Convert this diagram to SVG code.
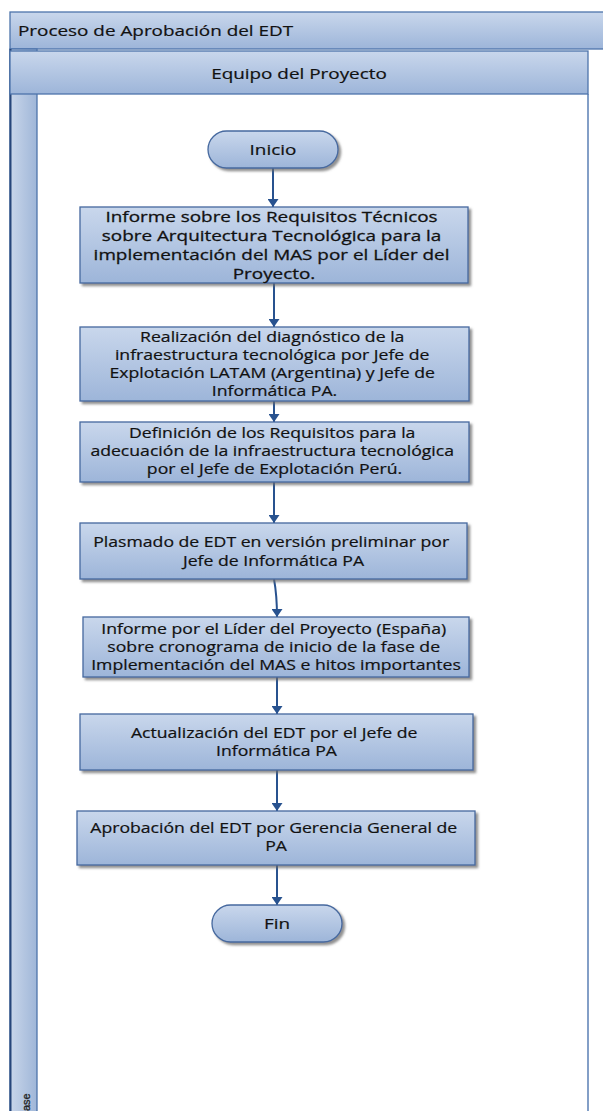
<svg xmlns="http://www.w3.org/2000/svg" width="603" height="1111" viewBox="0 0 603 1111">
  <defs>
    <linearGradient id="gv" x1="0" y1="0" x2="0" y2="1">
      <stop offset="0" stop-color="#c9d7ec"/>
      <stop offset="1" stop-color="#9db5d9"/>
    </linearGradient>
    <linearGradient id="gh" x1="0" y1="0" x2="1" y2="0">
      <stop offset="0" stop-color="#c9d6ea"/>
      <stop offset="1" stop-color="#9fb6d8"/>
    </linearGradient>
    <filter id="sh" x="-5%" y="-10%" width="115%" height="130%">
      <feDropShadow dx="2.5" dy="2.5" stdDeviation="1" flood-color="#6b6b6b" flood-opacity="0.75"/>
    </filter>
    <marker id="ah" markerUnits="userSpaceOnUse" viewBox="0 0 8 11" markerWidth="8" markerHeight="11" refX="8" refY="5.5" orient="auto">
      <path d="M0,0 L8,5.5 L0,11 z" fill="#28528f"/>
    </marker>
    <style>
      .bar { fill:url(#gv); stroke:#4d74ab; stroke-width:1.3; }
      .box { fill:url(#gv); stroke:#46699f; stroke-width:1.3; filter:url(#sh); }
      .t { font-family:"Open Sans","Liberation Sans",sans-serif; font-size:14px; fill:#111; stroke:#111; stroke-width:0.2; text-anchor:middle; }
      .tb { font-size:15px; stroke-width:0.28; }
      .hd { font-family:"Open Sans","Liberation Sans",sans-serif; font-size:15px; fill:#111; stroke:#111; stroke-width:0.2; }
      .conn { stroke:#28528f; stroke-width:2; fill:none; marker-end:url(#ah); }
    </style>
  </defs>

  <rect x="0" y="0" width="603" height="1111" fill="#ffffff"/>

  <g id="pool">
    <rect class="bar" x="10" y="12" width="600" height="37"/>
    <text class="hd" transform="translate(18 36) scale(1.26 1)" x="0" y="0">Proceso de Aprobación del EDT</text>
  </g>

  <g id="lane">
    <rect x="10" y="49" width="27" height="1070" fill="url(#gh)" stroke="#4d74ab" stroke-width="1.3"/>
    <line x1="10.5" y1="49" x2="10.5" y2="1111" stroke="#27467a" stroke-width="2"/>
    <line x1="588" y1="94" x2="588" y2="1111" stroke="#5a7fb5" stroke-width="1.5"/>
    <rect class="bar" x="10" y="51" width="578" height="43"/>
    <text class="hd" transform="translate(299 79) scale(1.26 1)" x="0" y="0" text-anchor="middle">Equipo del Proyecto</text>
    <text transform="translate(30 1111) rotate(-90)" x="0" y="0" font-family="Liberation Sans, Arial, sans-serif" font-size="11" fill="#222" stroke="#222" stroke-width="0.3">ase</text>
  </g>

  <g id="connectors">
    <line class="conn" x1="273" y1="168" x2="273" y2="207"/>
    <line class="conn" x1="274" y1="283" x2="274" y2="327"/>
    <line class="conn" x1="274" y1="401" x2="274" y2="422"/>
    <line class="conn" x1="274" y1="482" x2="274" y2="523"/>
    <path class="conn" d="M274,579 C276,590 277,600 277,617"/>
    <line class="conn" x1="277" y1="677" x2="277" y2="714"/>
    <line class="conn" x1="277" y1="770" x2="277" y2="811"/>
    <line class="conn" x1="277" y1="865" x2="277" y2="905"/>
  </g>

  <g id="inicio">
    <rect class="box" x="208" y="131" width="130" height="37" rx="18.5" ry="18.5"/>
    <text class="t" transform="translate(273 0) scale(1.26 1)" x="0" y="155" style="font-size:15px">Inicio</text>
  </g>

  <g id="n1">
    <rect class="box" x="80" y="207" width="388" height="76"/>
    <text class="t tb" transform="translate(274 0) scale(1.26 1)">
      <tspan x="0" y="222">Informe sobre  los Requisitos Técnicos</tspan>
      <tspan x="0" y="241">sobre Arquitectura Tecnológica para la</tspan>
      <tspan x="0" y="260">implementación del MAS por el Líder del</tspan>
      <tspan x="0" y="279">Proyecto.</tspan>
    </text>
  </g>

  <g id="n2">
    <rect class="box" x="80" y="327" width="389" height="74"/>
    <text class="t" transform="translate(274.5 0) scale(1.26 1)">
      <tspan x="0" y="342">Realización del diagnóstico de la</tspan>
      <tspan x="0" y="360">infraestructura tecnológica por Jefe de</tspan>
      <tspan x="0" y="378">Explotación LATAM (Argentina) y Jefe de</tspan>
      <tspan x="0" y="396">Informática PA.</tspan>
    </text>
  </g>

  <g id="n3">
    <rect class="box" x="80" y="422" width="389" height="60"/>
    <text class="t" transform="translate(274.5 0) scale(1.26 1)">
      <tspan x="0" y="438">Definición de los Requisitos para la</tspan>
      <tspan x="0" y="456">adecuación  de la infraestructura tecnológica</tspan>
      <tspan x="0" y="474">por el Jefe de Explotación Perú.</tspan>
    </text>
  </g>

  <g id="n4">
    <rect class="box" x="80" y="523" width="387" height="56"/>
    <text class="t" transform="translate(273.5 0) scale(1.26 1)">
      <tspan x="0" y="547">Plasmado de EDT en  versión preliminar por</tspan>
      <tspan x="0" y="566">Jefe de Informática PA</tspan>
    </text>
  </g>

  <g id="n5">
    <rect class="box" x="83" y="617" width="386" height="60"/>
    <text class="t" transform="translate(276 0) scale(1.26 1)">
      <tspan x="0" y="634">Informe por el Líder del Proyecto (España)</tspan>
      <tspan x="0" y="652">sobre cronograma de inicio de la fase de</tspan>
      <tspan x="0" y="670">Implementación del MAS e hitos importantes</tspan>
    </text>
  </g>

  <g id="n6">
    <rect class="box" x="80" y="714" width="393" height="56"/>
    <text class="t" transform="translate(276.5 0) scale(1.26 1)">
      <tspan x="0" y="738">Actualización del EDT por el Jefe de</tspan>
      <tspan x="0" y="756">Informática PA</tspan>
    </text>
  </g>

  <g id="n7">
    <rect class="box" x="77" y="811" width="398" height="54"/>
    <text class="t" transform="translate(276 0) scale(1.26 1)">
      <tspan x="0" y="833">Aprobación del EDT por Gerencia General de</tspan>
      <tspan x="0" y="851">PA</tspan>
    </text>
  </g>

  <g id="fin">
    <rect class="box" x="212" y="905" width="130" height="37" rx="18.5" ry="18.5"/>
    <text class="t" transform="translate(277 0) scale(1.26 1)" x="0" y="929" style="font-size:15px">Fin</text>
  </g>
</svg>
